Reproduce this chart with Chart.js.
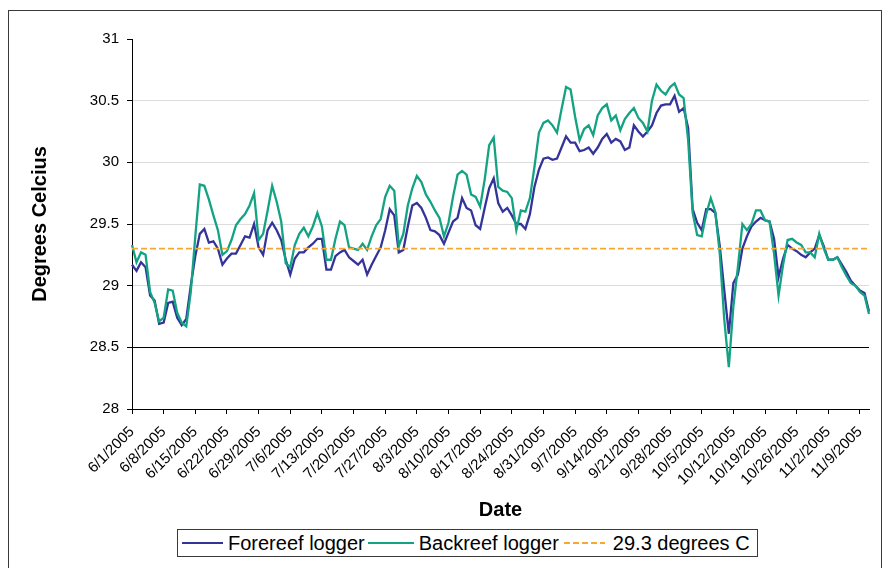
<!DOCTYPE html>
<html>
<head>
<meta charset="utf-8">
<script src="https://cdn.jsdelivr.net/npm/chart.js@4.4.1/dist/chart.umd.min.js"></script>
<style>
	body { margin: 0; background: #fff; font-family: 'Liberation Sans', Arial, sans-serif; }
	#wrap { position: relative; width: 887px; height: 568px; overflow: hidden; }
	#frame { position: absolute; left: 8px; top: 10px; width: 872px; height: 600px; border: 1.5px solid #3a3a3a; }
	#chart { position: absolute; left: 0; top: 0; }
	#legend {
		position: absolute; left: 177px; top: 529px; width: 581px; height: 28px;
		box-sizing: border-box; border: 1.5px solid #3a3a3a; background: #fff;
		display: flex; align-items: center; padding-left: 4px;
		font-size: 20px; color: #000; white-space: nowrap;
	}
	#legend .sample { display: inline-block; height: 2.5px; }
</style>
</head>
<body>
<div id="wrap">
	<div id="frame"></div>
	<canvas id="chart" width="887" height="568"></canvas>
	<div id="legend"></div>
</div>
<script>
// daily readings, 6/1/2005 .. 11/11/2005
const forereef = [
	29.17, 29.12, 29.19, 29.15, 28.92, 28.88, 28.69, 28.70, 28.86, 28.87,
	28.74, 28.68, 28.73, 29.00, 29.24, 29.42, 29.46, 29.35, 29.36, 29.30,
	29.17, 29.22, 29.26, 29.26, 29.33, 29.40, 29.39, 29.50, 29.31, 29.25,
	29.45, 29.51, 29.45, 29.37, 29.21, 29.09, 29.22, 29.27, 29.27, 29.31,
	29.34, 29.38, 29.38, 29.13, 29.13, 29.24, 29.27, 29.29, 29.23, 29.20,
	29.17, 29.21, 29.09, 29.17, 29.24, 29.31, 29.45, 29.62, 29.57, 29.27, 29.29,
	29.48, 29.65, 29.67, 29.63, 29.55, 29.45, 29.44, 29.41, 29.34, 29.43,
	29.52, 29.55, 29.71, 29.63, 29.61, 29.49, 29.46, 29.63, 29.79, 29.87,
	29.67, 29.60, 29.63, 29.57, 29.50, 29.50, 29.46, 29.58, 29.80, 29.94,
	30.03, 30.04, 30.02, 30.03, 30.12, 30.21, 30.16, 30.16, 30.09, 30.10,
	30.12, 30.07, 30.12, 30.19, 30.23, 30.16, 30.19, 30.17, 30.10, 30.12,
	30.30, 30.25, 30.21, 30.25, 30.30, 30.40, 30.46, 30.47, 30.47, 30.54,
	30.41, 30.44, 30.28, 29.62, 29.51, 29.45, 29.62, 29.62, 29.59, 29.32,
	28.96, 28.61, 29.02, 29.09, 29.30, 29.40, 29.48, 29.52, 29.55, 29.53,
	29.52, 29.38, 29.07, 29.22, 29.33, 29.30, 29.28,
	29.25, 29.23, 29.27, 29.30, 29.41, 29.32, 29.21, 29.21, 29.23, 29.17,
	29.11, 29.04, 29.00, 28.96, 28.94, 28.79
];
const backreef = [
	29.33, 29.19, 29.27, 29.25, 28.95, 28.86, 28.71, 28.74, 28.97, 28.96,
	28.78, 28.70, 28.67, 28.95, 29.40, 29.82, 29.81, 29.70, 29.57, 29.45,
	29.25, 29.28, 29.37, 29.49, 29.54, 29.58, 29.65, 29.75, 29.37, 29.42,
	29.61, 29.81, 29.68, 29.52, 29.18, 29.15, 29.33, 29.42, 29.47, 29.40,
	29.48, 29.59, 29.48, 29.21, 29.21, 29.38, 29.52, 29.49, 29.31, 29.30,
	29.29, 29.34, 29.29, 29.40, 29.49, 29.54, 29.72, 29.81, 29.77, 29.32, 29.42,
	29.65, 29.79, 29.89, 29.84, 29.74, 29.68, 29.61, 29.55, 29.40, 29.51,
	29.72, 29.90, 29.93, 29.90, 29.74, 29.72, 29.64, 29.86, 30.14, 30.20,
	29.80, 29.77, 29.76, 29.71, 29.45, 29.61, 29.60, 29.71, 29.96, 30.24,
	30.32, 30.34, 30.30, 30.24, 30.43, 30.61, 30.59, 30.37, 30.18, 30.27,
	30.30, 30.22, 30.38, 30.44, 30.47, 30.34, 30.38, 30.26, 30.35, 30.40,
	30.44, 30.36, 30.32, 30.25, 30.50, 30.63, 30.58, 30.55, 30.61, 30.64,
	30.55, 30.52, 30.18, 29.59, 29.41, 29.40, 29.58, 29.71, 29.60, 29.26,
	28.72, 28.34, 28.83, 29.15, 29.50, 29.45, 29.50, 29.61, 29.61, 29.53,
	29.52, 29.26, 28.92, 29.17, 29.37, 29.38, 29.35,
	29.33, 29.27, 29.27, 29.23, 29.42, 29.30, 29.21, 29.21, 29.23, 29.15,
	29.08, 29.02, 29.00, 28.95, 28.92, 28.77
];
const threshold = 29.3;

const xTickLabels = [
	'6/1/2005', '6/8/2005', '6/15/2005', '6/22/2005', '6/29/2005', '7/6/2005',
	'7/13/2005', '7/20/2005', '7/27/2005', '8/3/2005', '8/10/2005', '8/17/2005',
	'8/24/2005', '8/31/2005', '9/7/2005', '9/14/2005', '9/21/2005', '9/28/2005',
	'10/5/2005', '10/12/2005', '10/19/2005', '10/26/2005', '11/2/2005', '11/9/2005'
];
const yTicks = [28, 28.5, 29, 29.5, 30, 30.5, 31];

const seriesNames = ['Forereef logger', 'Backreef logger', '29.3 degrees C'];
const colors = ['#333399', '#13a383', '#f6a735'];

// one category per day
const dates = [];
for (let i = 0; i < forereef.length; i++) {
	const d = new Date(2005, 5, 1 + i);
	dates.push(`${d.getMonth() + 1}/${d.getDate()}/${d.getFullYear()}`);
}

function build_legend() {
	const el = document.getElementById('legend');
	const widths = [41, 46, 41];
	const gaps = [[5, 3], [5, 5], [8, 0]];
	el.innerHTML = seriesNames.map((name, i) => {
		const bg = i === 2
			? `repeating-linear-gradient(90deg, ${colors[i]} 0 6px, transparent 6px 9px)`
			: colors[i];
		const h = i === 2 ? 2 : 2.5;
		return `<span class="sample" style="width:${widths[i]}px;height:${h}px;background:${bg};margin-right:${gaps[i][0]}px"></span>`
			+ `<span style="margin-right:${gaps[i][1]}px">${name}</span>`;
	}).join('');
}

function build_chart() {
	const data = {
		labels: dates,
		datasets: [
			{
				label: seriesNames[0],
				data: forereef,
				borderColor: colors[0],
				backgroundColor: colors[0],
				borderWidth: 2.3,
				order: 3
			},
			{
				label: seriesNames[1],
				data: backreef,
				borderColor: colors[1],
				backgroundColor: colors[1],
				borderWidth: 2.3,
				order: 2
			},
			{
				label: seriesNames[2],
				data: [
					{x: dates[0], y: threshold},
					{x: dates[dates.length - 1], y: threshold}
				],
				borderColor: colors[2],
				backgroundColor: colors[2],
				borderWidth: 1.6,
				borderDash: [6, 3],
				order: 1
			}
		]
	};

	const config = {
		type: 'line',
		data: data,
		options: {
			responsive: false,
			animation: false,
			devicePixelRatio: 1,
			elements: {
				point: { radius: 0 },
				line: { tension: 0 }
			},
			layout: {
				padding: { left: 0, right: 18, top: 39, bottom: 46 }
			},
			plugins: {
				legend: { display: false },
				tooltip: { enabled: false }
			},
			scales: {
				x: {
					type: 'category',
					offset: false,
					border: { color: '#000', width: 1 },
					grid: {
						drawOnChartArea: false,
						tickLength: 5,
						tickColor: '#000',
						color: '#000'
					},
					ticks: {
						autoSkip: false,
						minRotation: 45,
						maxRotation: 45,
						padding: 9,
						color: '#000',
						font: { family: "'Liberation Sans', Arial", size: 15 },
						callback: function(value) {
							const label = this.getLabelForValue(value);
							return xTickLabels.includes(label) ? label : null;
						}
					},
					title: {
						display: true,
						text: 'Date',
						color: '#000',
						font: { family: "'Liberation Sans', Arial", size: 20, weight: 'bold' },
						padding: { top: 0, bottom: 0 }
					},
					afterFit: function(scale) {
						scale.height = 113;
					}
				},
				y: {
					min: 28,
					max: 31,
					border: { color: '#000', width: 1 },
					grid: {
						tickLength: 5,
						tickColor: '#000',
						lineWidth: 1,
						color: function(ctx) {
							const v = ctx.tick && ctx.tick.value;
							if (v === 28.5) return '#000';
							if (v === 28 || v === 31) return 'rgba(0,0,0,0)';
							return '#dcdcdc';
						}
					},
					afterBuildTicks: function(scale) {
						scale.ticks = yTicks.map(v => ({ value: v }));
					},
					ticks: {
						padding: 8,
						color: '#000',
						font: { family: "'Liberation Sans', Arial", size: 15 },
						callback: v => String(v)
					},
					title: {
						display: true,
						text: 'Degrees Celcius',
						color: '#000',
						font: { family: "'Liberation Sans', Arial", size: 20, weight: 'bold' },
						padding: { top: 28, bottom: 0 }
					},
					afterFit: function(scale) {
						scale.width = 132;
					}
				}
			}
		}
	};

	new Chart(document.getElementById('chart'), config);
}

build_legend();
build_chart();
</script>
</body>
</html>
